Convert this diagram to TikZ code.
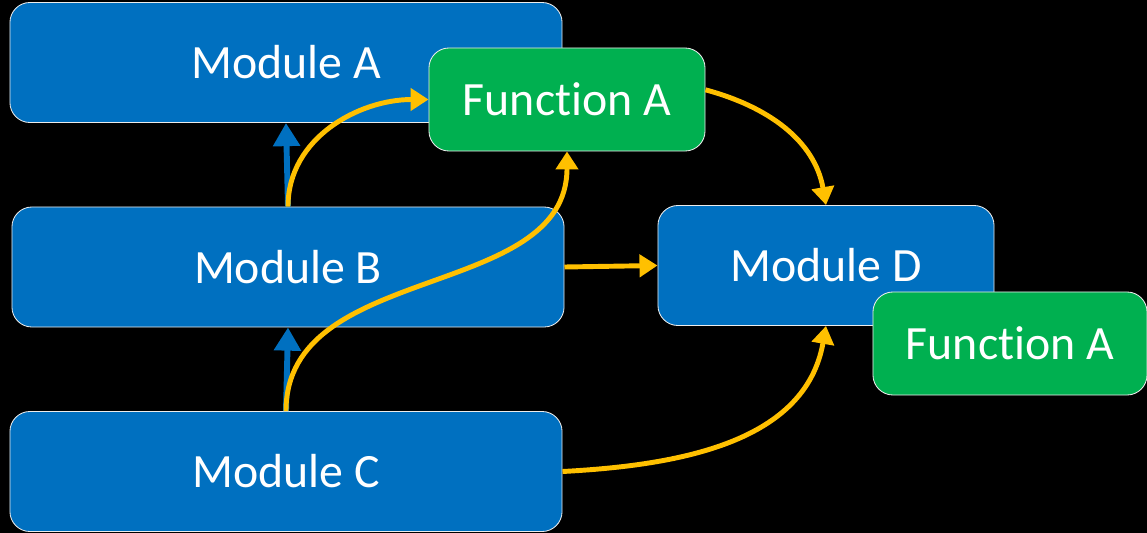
\documentclass[tikz,border=0pt]{standalone}
\usepackage{fontspec}
\setmainfont[Ligatures=NoCommon]{Carlito}
\usetikzlibrary{arrows.meta}
\definecolor{modblue}{HTML}{0070C0}
\definecolor{fungreen}{HTML}{00B050}
\definecolor{flowyellow}{HTML}{FFC000}
\begin{document}
\begin{tikzpicture}[x=0.025cm,y=-0.025cm,
    modbox/.style={shape=rectangle,rounded corners=0.5cm,fill=modblue,draw=white!85!gray,line width=0.6pt,text=white,font=\fontsize{34}{40}\selectfont,minimum height=3cm},
    funcbox/.style={modbox,fill=fungreen,minimum width=6.9cm,minimum height=2.575cm},
    dep/.style={modblue,line width=4.2pt,-{Triangle[length=0.58cm,width=0.65cm]}},
    flow/.style={flowyellow,line width=3.5pt,-{Triangle[length=0.45cm,width=0.55cm]}}]
    \path[use as bounding box,fill=black] (0,0) rectangle (1147,533);
    \node[modbox,minimum width=13.8cm] (A) at (286,62.5) {Module A};
    \node[funcbox] (FA) at (567,99.5) {Function A};
    \node[modbox,minimum width=13.8cm] (B) at (288,267) {Module B};
    \node[modbox,minimum width=8.4cm] (D) at (826,265.5) {Module D};
    \node[funcbox,minimum width=6.85cm] (FD) at (1010,343.5) {Function A};
    \node[modbox,minimum width=13.8cm] (C) at (286,471.5) {Module C};
    \draw[dep] (B.north) -- (A.south);
    \draw[dep] (C.north) -- (B.south);
    \draw[flow] (B.north) to[out=90,in=180] (FA.west);
    \draw[flow] (C.north) to[out=90,in=-90] (FA.south);
    \draw[flow] (B.east) -- (D.west);
    \draw[flow] (FA.4) to[out=-15,in=100] (D.north);
    \draw[flow] (C.east) to[out=3,in=-100] (D.south);
\end{tikzpicture}
\end{document}
